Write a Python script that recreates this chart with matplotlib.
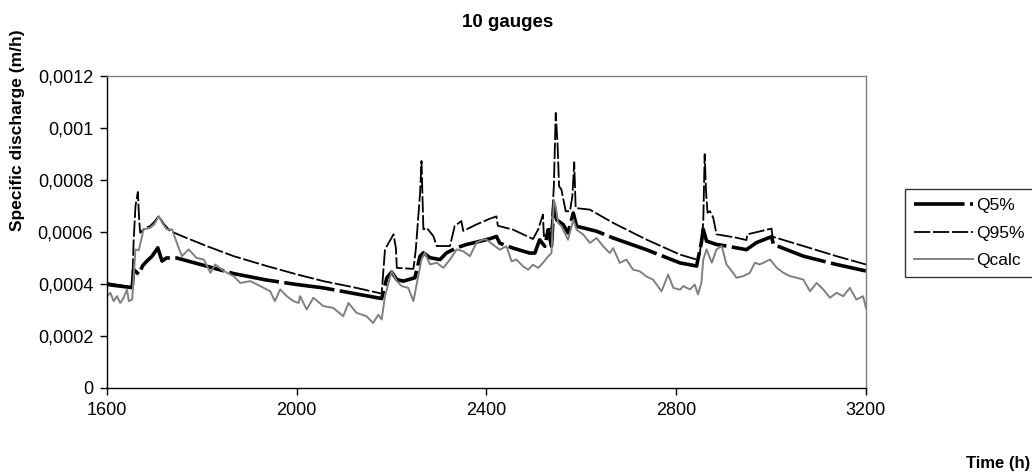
import matplotlib
matplotlib.use("Agg")
import matplotlib.pyplot as plt

plt.rcParams['font.family'] = ['Liberation Sans', 'DejaVu Sans']

# --- data (time in h, specific discharge in m/h) ---
t_q95 = [1600, 1625, 1653, 1656, 1660, 1665, 1668, 1670, 1680, 1691, 1700, 1709, 1720, 1733,
         1761, 1810, 1867, 1937, 2000, 2056, 2126, 2179, 2186, 2204, 2209, 2211, 2246, 2251,
         2260, 2263, 2267, 2274, 2288, 2295, 2323, 2333, 2347, 2351, 2379, 2407, 2421, 2424,
         2456, 2498, 2509, 2519, 2521, 2530, 2537, 2542, 2546, 2550, 2553, 2558, 2567, 2576,
         2581, 2585, 2588, 2618, 2667, 2737, 2808, 2843, 2850, 2857, 2860, 2863, 2866, 2871,
         2878, 2885, 2927, 2948, 2950, 3001, 3003, 3068, 3138, 3200]
q95 = [0.000404, 0.000396, 0.000388, 0.000560, 0.000700, 0.000754, 0.000640, 0.000597,
       0.000615, 0.000623, 0.000640, 0.000661, 0.000630, 0.000604, 0.000582, 0.000546,
       0.000507, 0.000469, 0.000437, 0.000411, 0.000385, 0.000363, 0.000533, 0.000591,
       0.000539, 0.000462, 0.000458, 0.000533, 0.000750, 0.000873, 0.000610, 0.000616,
       0.000584, 0.000546, 0.000546, 0.000623, 0.000642, 0.000604, 0.000629, 0.000651,
       0.000660, 0.000624, 0.000609, 0.000573, 0.000610, 0.000667, 0.000584, 0.000609,
       0.000615, 0.000776, 0.001058, 0.000930, 0.000776, 0.000763, 0.000680, 0.000680,
       0.000737, 0.000868, 0.000692, 0.000686, 0.000635, 0.000571, 0.000513, 0.000494,
       0.000520, 0.000636, 0.000899, 0.000751, 0.000674, 0.000680, 0.000655, 0.000591,
       0.000578, 0.000569, 0.000591, 0.000613, 0.000582, 0.000546, 0.000507, 0.000475]

t_q5 = [1600, 1653, 1656, 1667, 1675, 1684, 1695, 1707, 1716, 1725, 1747, 1797, 1867, 1937,
        2000, 2056, 2179, 2190, 2200, 2211, 2225, 2249, 2260, 2267, 2281, 2302, 2316, 2337,
        2358, 2379, 2407, 2421, 2428, 2456, 2491, 2502, 2512, 2523, 2530, 2537, 2542, 2548,
        2562, 2572, 2583, 2590, 2632, 2667, 2737, 2808, 2843, 2853, 2857, 2864, 2885, 2906,
        2927, 2948, 2969, 3001, 3005, 3068, 3138, 3200]
q5 = [0.000398, 0.000386, 0.000456, 0.000437, 0.000470, 0.000488, 0.000507, 0.000539,
      0.000488, 0.000500, 0.000500, 0.000475, 0.000440, 0.000415, 0.000398, 0.000385,
      0.000344, 0.000424, 0.000446, 0.000417, 0.000411, 0.000424, 0.000507, 0.000520,
      0.000501, 0.000494, 0.000520, 0.000539, 0.000552, 0.000561, 0.000574, 0.000583,
      0.000557, 0.000538, 0.000519, 0.000519, 0.000570, 0.000545, 0.000609, 0.000545,
      0.000699, 0.000647, 0.000628, 0.000596, 0.000673, 0.000622, 0.000603, 0.000577,
      0.000532, 0.000481, 0.000469, 0.000559, 0.000610, 0.000565, 0.000552, 0.000546,
      0.000539, 0.000532, 0.000559, 0.000582, 0.000552, 0.000507, 0.000475, 0.000450]

t_calc = [1600, 1607, 1614, 1621, 1628, 1635, 1642, 1646, 1653, 1660, 1667, 1677, 1691, 1700,
          1709, 1718, 1726, 1737, 1747, 1758, 1772, 1789, 1804, 1818, 1828, 1846, 1867, 1881,
          1902, 1923, 1944, 1954, 1965, 1979, 1993, 2004, 2007, 2021, 2035, 2056, 2077, 2098,
          2109, 2126, 2147, 2161, 2172, 2179, 2186, 2200, 2211, 2221, 2235, 2246, 2256, 2263,
          2270, 2281, 2295, 2309, 2323, 2337, 2351, 2365, 2379, 2393, 2400, 2414, 2428, 2442,
          2453, 2463, 2477, 2488, 2498, 2509, 2519, 2530, 2537, 2542, 2546, 2551, 2558, 2565,
          2572, 2583, 2590, 2604, 2618, 2632, 2646, 2660, 2667, 2681, 2695, 2709, 2723, 2737,
          2751, 2769, 2783, 2794, 2808, 2815, 2829, 2839, 2846, 2853, 2857, 2864, 2875, 2885,
          2896, 2906, 2917, 2927, 2941, 2955, 2966, 2976, 2991, 2998, 3012, 3026, 3040, 3054,
          3068, 3082, 3096, 3110, 3124, 3138, 3152, 3166, 3180, 3194, 3200]
qcalc = [0.000353, 0.000366, 0.000334, 0.000353, 0.000327, 0.000347, 0.000379, 0.000334,
         0.000340, 0.000533, 0.000530, 0.000610, 0.000616, 0.000630, 0.000661, 0.000630,
         0.000610, 0.000610, 0.000559, 0.000507, 0.000533, 0.000500, 0.000494, 0.000443,
         0.000475, 0.000450, 0.000430, 0.000404, 0.000411, 0.000392, 0.000372, 0.000334,
         0.000379, 0.000353, 0.000334, 0.000327, 0.000353, 0.000302, 0.000347, 0.000315,
         0.000308, 0.000276, 0.000327, 0.000289, 0.000276, 0.000250, 0.000282, 0.000263,
         0.000353, 0.000449, 0.000411, 0.000392, 0.000385, 0.000334, 0.000430, 0.000494,
         0.000520, 0.000475, 0.000482, 0.000462, 0.000494, 0.000533, 0.000526, 0.000507,
         0.000559, 0.000571, 0.000571, 0.000551, 0.000532, 0.000545, 0.000487, 0.000494,
         0.000468, 0.000455, 0.000474, 0.000462, 0.000481, 0.000506, 0.000519, 0.000724,
         0.000699, 0.000635, 0.000622, 0.000596, 0.000570, 0.000647, 0.000609, 0.000590,
         0.000558, 0.000577, 0.000545, 0.000519, 0.000538, 0.000481, 0.000494, 0.000455,
         0.000449, 0.000429, 0.000417, 0.000372, 0.000436, 0.000385, 0.000378, 0.000392,
         0.000379, 0.000398, 0.000360, 0.000404, 0.000494, 0.000533, 0.000482, 0.000533,
         0.000546, 0.000475, 0.000450, 0.000424, 0.000430, 0.000443, 0.000482, 0.000475,
         0.000488, 0.000494, 0.000462, 0.000443, 0.000430, 0.000424, 0.000417, 0.000372,
         0.000404, 0.000379, 0.000347, 0.000366, 0.000353, 0.000385, 0.000340, 0.000353,
         0.000308]

x_ticks = [1600, 2000, 2400, 2800, 3200]
y_ticks = [0, 0.0002, 0.0004, 0.0006, 0.0008, 0.001, 0.0012]
y_tick_labels = ['0', '0,0002', '0,0004', '0,0006', '0,0008', '0,001', '0,0012']


def main():
    fig = plt.figure(figsize=(10.32, 4.75), dpi=100)
    ax = fig.add_axes([0.1037, 0.1832, 0.7354, 0.6568])

    ax.plot(t_q5, q5, color='black', lw=2.6, dashes=(14, 1.5), label='Q5%')
    ax.plot(t_q95, q95, color='black', lw=1.3, dashes=(9, 1.5), label='Q95%')
    ax.plot(t_calc, qcalc, color='#808080', lw=1.4, label='Qcalc')

    ax.set_xlim(1600, 3200)
    ax.set_ylim(0, 0.0012)
    ax.set_xticks(x_ticks)
    ax.set_xticklabels([str(v) for v in x_ticks])
    ax.set_yticks(y_ticks)
    ax.set_yticklabels(y_tick_labels)
    ax.tick_params(direction='out', length=5, width=1, labelsize=13, colors='black', pad=5)

    for side in ['top', 'right']:
        ax.spines[side].set_color('#808080')
        ax.spines[side].set_linewidth(1)
    for side in ['left', 'bottom']:
        ax.spines[side].set_color('black')
        ax.spines[side].set_linewidth(1)

    fig.text(0.492, 0.953, '10 gauges', ha='center', va='center', fontsize=13.5, fontweight='bold')
    fig.text(0.0165, 0.726, 'Specific discharge (m/h)', ha='center', va='center',
             rotation=90, fontsize=12.5, fontweight='bold')
    fig.text(0.967, 0.025, 'Time (h)', ha='center', va='center', fontsize=12, fontweight='bold')

    leg = fig.legend(loc='center left', bbox_to_anchor=(0.877, 0.509), fontsize=12.5,
                     frameon=True, fancybox=False, edgecolor='black', handlelength=3.4,
                     borderpad=0.5, labelspacing=0.72, handletextpad=0.2, borderaxespad=0)
    leg.get_frame().set_linewidth(1)

    fig.savefig('out.png', dpi=100)


if __name__ == "__main__":
    main()
